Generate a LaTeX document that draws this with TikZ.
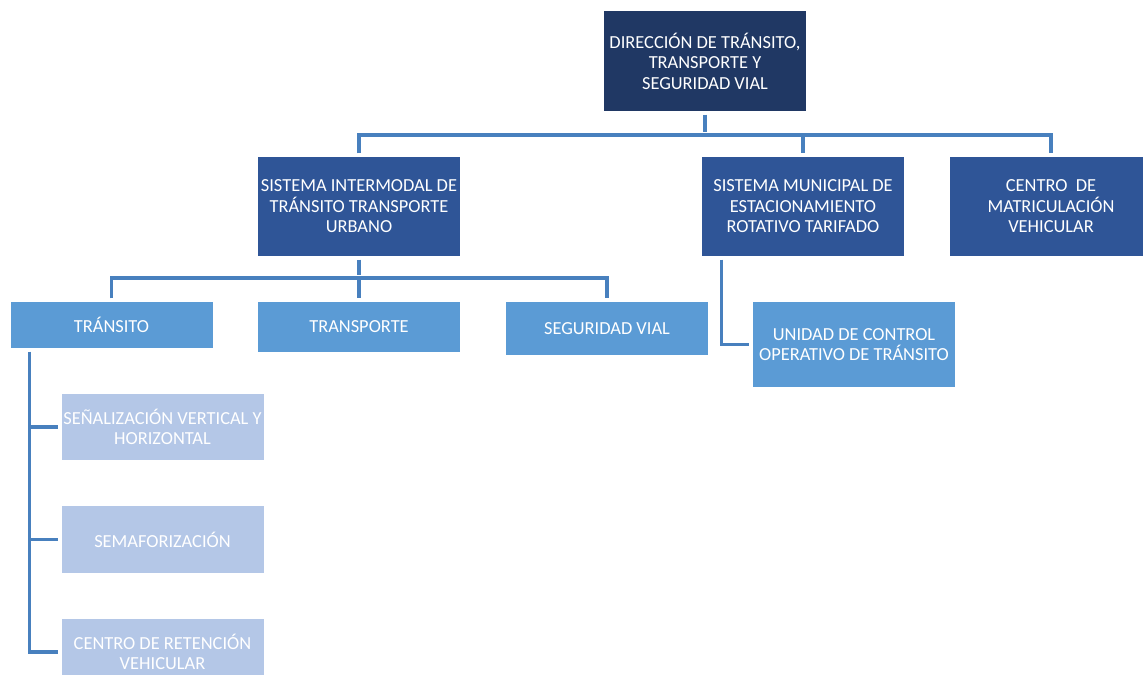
\documentclass[tikz,border=0pt]{standalone}
\usepackage{fontspec}
\setmainfont{Carlito}
\usepackage{xcolor}
\usepackage{tikz}
\usetikzlibrary{positioning, calc}
\definecolor{DarkNavy}{RGB}{32,56,100}
\definecolor{RoyalBlue}{RGB}{47,85,151}
\definecolor{SkyBlue}{RGB}{91,155,213}
\definecolor{PaleBlue}{RGB}{180,199,231}
\definecolor{LineBlue}{RGB}{72,128,190}

\tikzset{
  unit/.style={draw=none, text=white, align=center, inner sep=0pt,
               minimum width=151.5pt, font=\fontsize{13.8}{15.4}\selectfont},
  lvlone/.style={unit, fill=DarkNavy, minimum height=75pt},
  lvltwo/.style={unit, fill=RoyalBlue, minimum height=74.25pt},
  lvlthree/.style={unit, fill=SkyBlue},
  lvlfour/.style={unit, fill=PaleBlue, minimum height=50pt},
  conn/.style={draw=LineBlue, line width=2.6pt, shorten <=2.5pt, shorten >=2.5pt}
}

\begin{document}
\begin{tikzpicture}[x=0.75pt, y=-0.75pt]
\useasboundingbox (0,0) rectangle (1143,675);
\clip (0,0) rectangle (1143,675);

% ---- Direction ----
\node[lvlone] (dir) at (705,61) {DIRECCIÓN DE TRÁNSITO,\\TRANSPORTE Y\\SEGURIDAD VIAL};

% ---- Second level ----
\node[lvltwo] (sim)  at (359,206.5) {SISTEMA INTERMODAL DE\\TRÁNSITO TRANSPORTE\\URBANO};
\node[lvltwo] (smem) at (803,206.5) {SISTEMA MUNICIPAL DE\\ESTACIONAMIENTO\\ROTATIVO TARIFADO};
\node[lvltwo] (ctr)  at (1051,206.5) {CENTRO\ \ DE\\MATRICULACIÓN\\VEHICULAR};

% ---- Third level ----
\node[lvlthree, minimum height=34.5pt] (tra) at (111.5,325) {TRÁNSITO};
\node[lvlthree, minimum height=37.5pt] (trp) at (359,327) {TRANSPORTE};
\node[lvlthree, minimum height=39.75pt] (seg) at (607,328.5) {SEGURIDAD VIAL};
\node[lvlthree, minimum height=63.75pt] (ucot) at (854,344.5) {UNIDAD DE CONTROL\\OPERATIVO DE TRÁNSITO};

% ---- Fourth level ----
\node[lvlfour] (sen) at (162.5,427) {SEÑALIZACIÓN VERTICAL Y\\HORIZONTAL};
\node[lvlfour] (sem) at (162.5,539.5) {SEMAFORIZACIÓN};
\node[lvlfour] (ret) at (162.5,652) {CENTRO DE RETENCIÓN\\VEHICULAR};

% ---- connectors ----
\coordinate (busone) at (705,135);
\draw[conn] (dir.south) -- (busone);
\draw[conn] (sim.north) |- (busone) -| (ctr.north);
\draw[conn, shorten <=0pt] (busone) -| (smem.north);

\coordinate (bustwo) at (359,278);
\draw[conn] (sim.south) -- (bustwo);
\draw[conn] (tra.north) |- (bustwo) -| (seg.north);
\draw[conn, shorten <=0pt] (bustwo) -- (trp.north);

\draw[conn] ($(smem.south west)+(20,0)$) |- (ucot.west);

\coordinate (spine) at ($(tra.south west)+(19,0)$);
\draw[conn] (spine) |- (ret.west);
\foreach \leaf in {sen, sem}{
  \draw[conn, shorten <=0pt] (spine |- \leaf.west) -- (\leaf.west);
}

\end{tikzpicture}
\end{document}
